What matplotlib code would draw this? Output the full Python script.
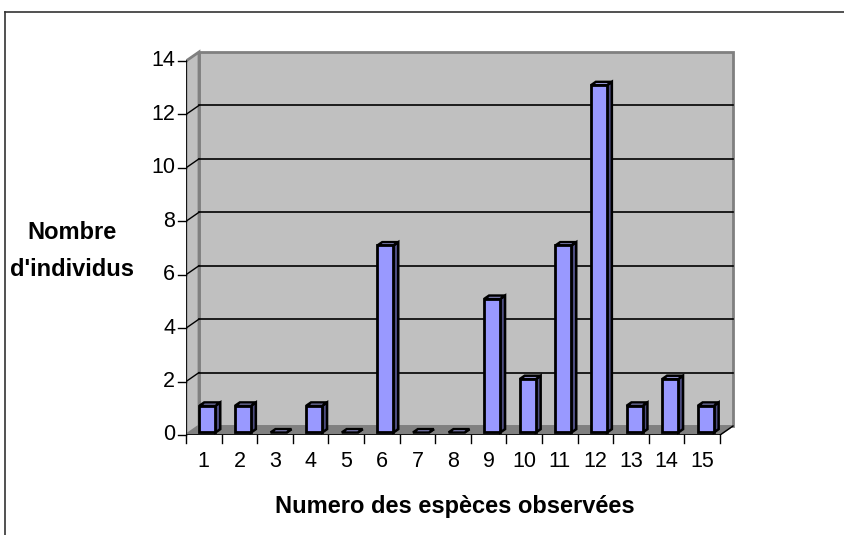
import numpy as np
import matplotlib.pyplot as plt
from matplotlib.patches import Polygon, Rectangle
from matplotlib.lines import Line2D

plt.rcParams['font.family'] = ['Liberation Sans', 'DejaVu Sans']

especes = list(range(1, 16))
individus = [1, 1, 0, 1, 0, 7, 0, 0, 5, 2, 7, 13, 1, 2, 1]
yticks = [0, 2, 4, 6, 8, 10, 12, 14]

# pseudo 3D depth (data units)
dx, dy = 0.365, 0.337
bw = 0.45          # bar width
t0, t1 = 0.28, 0.65  # bar depth range (fraction of wall depth)

fig = plt.figure(figsize=(8.45, 5.35), dpi=100)
W, H = 845, 535
x0px, x1px = 186, 720
y0px, y1px = 100, 474
sx = (x1px - x0px) / 15.0
sy = (y1px - y0px) / 14.0
xmax = 0.5 + (740 - x0px) / sx
ymax = (490 - y0px) / sy
ax = fig.add_axes([x0px / W, y0px / H, (740 - x0px) / W, (490 - y0px) / H])
ax.set_xlim(0.5, xmax)
ax.set_ylim(0, ymax)
ax.axis('off')

# frame of the chart area (cropped)
fig.add_artist(Line2D([5 / W, 5 / W], [0, 1 - 12 / H], color='#333333', lw=1.2))
fig.add_artist(Line2D([5 / W, 1], [1 - 12 / H, 1 - 12 / H], color='#333333', lw=1.2))

wall_c = '#C0C0C0'
edge_c = '#808080'
# back wall
ax.add_patch(Rectangle((0.5 + dx, dy), 15, 14, facecolor=wall_c, edgecolor=edge_c, lw=2, zorder=1))
# side wall
ax.add_patch(Polygon([(0.5, 0), (0.5 + dx, dy), (0.5 + dx, 14 + dy), (0.5, 14)],
                     closed=True, facecolor=wall_c, edgecolor=edge_c, lw=2, zorder=1))
# floor
ax.add_patch(Polygon([(0.5, 0), (15.5, 0), (15.5 + dx, dy), (0.5 + dx, dy)],
                     closed=True, facecolor='#808080', edgecolor='#808080', lw=1, zorder=1))

# gridlines
for v in yticks[1:-1]:
    ax.plot([0.5 + dx, 15.5 + dx], [v + dy, v + dy], color='black', lw=1.2, zorder=2)
    ax.plot([0.5, 0.5 + dx], [v, v + dy], color='black', lw=1, zorder=2)

# axes lines
ax.plot([0.5, 0.5], [0, 14], color='black', lw=1.2, zorder=5)
ax.plot([0.5, 15.5], [0, 0], color='black', lw=1.2, zorder=5)
ax.plot([15.5, 15.5 + dx], [0, dy], color='black', lw=1, zorder=5)
for v in yticks:
    ax.plot([0.5 - 0.22, 0.5], [v, v], color='black', lw=1, zorder=5, clip_on=False)
    ax.text(0.5 - 0.3, v, str(v), ha='right', va='center', fontsize=15.5, clip_on=False)
for k in range(16):
    ax.plot([0.5 + k, 0.5 + k], [0, -0.3], color='black', lw=1, zorder=5, clip_on=False)
for e in especes:
    ax.text(e, -0.6, str(e), ha='center', va='top', fontsize=15.5, clip_on=False)

# bars
fx, fy = t0 * dx, t0 * dy
bx, by = (t1 - t0) * dx, (t1 - t0) * dy
for e, v in zip(especes, individus):
    xl = e - bw / 2 + fx
    xr = e + bw / 2 + fx
    yb = fy
    yt = v + fy
    # side
    ax.add_patch(Polygon([(xr, yb), (xr + bx, yb + by), (xr + bx, yt + by), (xr, yt)],
                         closed=True, facecolor='#4D4D80', edgecolor='black', lw=1.8, zorder=4))
    # top
    ax.add_patch(Polygon([(xl, yt), (xr, yt), (xr + bx, yt + by), (xl + bx, yt + by)],
                         closed=True, facecolor='#B3B3FF', edgecolor='black', lw=1.8, zorder=4))
    # front
    if v > 0:
        ax.add_patch(Rectangle((xl, yb), bw, v, facecolor='#9999FF', edgecolor='black', lw=2, zorder=4))

fig.text(72 / W, 1 - 251 / H, "Nombre\nd'individus", ha='center', va='center',
         fontsize=17, fontweight='bold', linespacing=1.75)
fig.text(455 / W, 1 - 506 / H, "Numero des espèces observées", ha='center', va='center',
         fontsize=17, fontweight='bold')

fig.savefig('out.png', dpi=100)
